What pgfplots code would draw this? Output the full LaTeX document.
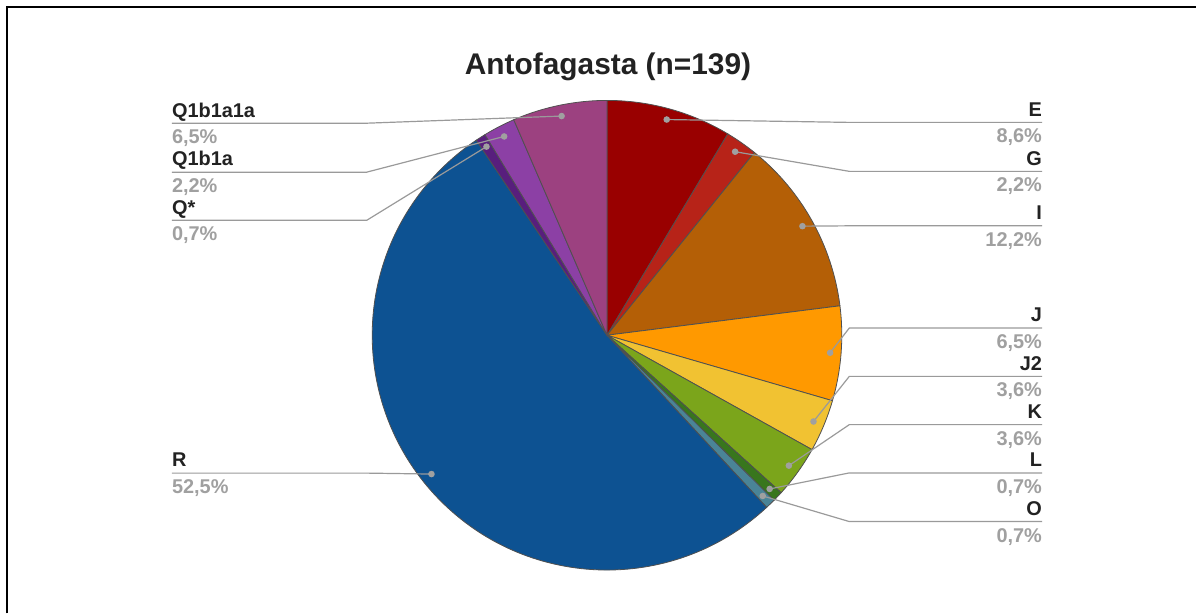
\documentclass[border=0pt]{standalone}
\usepackage{fontspec}
\setmainfont{Liberation Sans}
\usepackage{pgfplots}
\usepackage{pgfplotstable}
\pgfplotsset{compat=1.18}

% slice colours
\definecolor{cE}{HTML}{990000}
\definecolor{cG}{HTML}{B72318}
\definecolor{cI}{HTML}{B45F06}
\definecolor{cJ}{HTML}{FF9900}
\definecolor{cJtwo}{HTML}{F1C232}
\definecolor{cK}{HTML}{7BA51B}
\definecolor{cL}{HTML}{38761D}
\definecolor{cO}{HTML}{4A8497}
\definecolor{cR}{HTML}{0D5292}
\definecolor{cQs}{HTML}{581E7D}
\definecolor{cQa}{HTML}{8C40A5}
\definecolor{cQb}{HTML}{9C4180}
\definecolor{sliceedge}{HTML}{505050}
\definecolor{leader}{HTML}{9A9A9A}
\definecolor{namecol}{HTML}{222222}
\definecolor{pctcol}{HTML}{A0A0A0}

% haplogroup shares (percent), clockwise from 12 o'clock;
% side: 1 = label on the right, 0 = on the left; ly: label rule height
\pgfplotstableread{
name     pct   col    side  ly
E        8.6   cE     1     122.5
G        2.2   cG     1     171.5
I        12.2  cI     1     226
J        6.5   cJ    1     328.3
J2       3.6   cJtwo  1     376.7
K        3.6   cK     1     425
L        0.7   cL     1     473.3
O        0.7   cO     1     522
R        52.5  cR     0     473.5
Q*       0.7   cQs    0     220.5
Q1b1a    2.2   cQa    0     172.3
Q1b1a1a  6.5   cQb    0     123.3
}\pietable

\def\splitdot#1.#2\relax{#1,#2}
\def\cx{607.5}
\def\cy{335.5}

\begin{document}
\begin{tikzpicture}
\begin{axis}[
  scale only axis, width=1197bp, height=614bp,
  xmin=0, xmax=1197, ymin=0, ymax=614, y dir=reverse,
  hide axis, clip=false]
\path (rel axis cs:0,0) rectangle (rel axis cs:1,1);

% frame
\draw[black, line width=2bp] (axis cs:7,614) -- (axis cs:7,7.5) -- (axis cs:1197,7.5);

% title
\node[anchor=base, inner sep=0pt, text=namecol,
      font=\bfseries\fontsize{30}{36}\selectfont]
  at (axis cs:608.5,75) {Antofagasta (n=139)};

\pgfplotstablegetrowsof{\pietable}
\pgfmathtruncatemacro\lastrow{\pgfplotsretval-1}

% slices
\xdef\cum{0}
\pgfplotsinvokeforeach{0,...,\lastrow}{
  \pgfplotstablegetelem{#1}{pct}\of\pietable \let\p\pgfplotsretval
  \pgfplotstablegetelem{#1}{col}\of\pietable \let\c\pgfplotsretval
  \pgfmathsetmacro\a{90-3.6*\cum}
  \pgfmathsetmacro\b{\a-3.6*\p}
  \pgfmathsetmacro\newcum{\cum+\p}
  \xdef\cum{\newcum}
  \edef\temp{\noexpand\filldraw[fill=\c, draw=sliceedge, line width=0.8bp]
    (axis cs:\cx,\cy) -- ++(\a:235bp)
    arc[start angle=\a, end angle=\b, radius=235bp] -- cycle;}
  \temp
}

% leaders and labels
\xdef\cum{0}
\pgfplotsinvokeforeach{0,...,\lastrow}{
  \pgfplotstablegetelem{#1}{pct}\of\pietable \let\p\pgfplotsretval
  \pgfplotstablegetelem{#1}{name}\of\pietable \let\n\pgfplotsretval
  \pgfplotstablegetelem{#1}{side}\of\pietable \let\s\pgfplotsretval
  \pgfplotstablegetelem{#1}{ly}\of\pietable \let\ly\pgfplotsretval
  \pgfmathsetmacro\m{90-3.6*\cum-1.8*\p}
  \pgfmathsetmacro\newcum{\cum+\p}
  \xdef\cum{\newcum}
  \edef\pl{\expandafter\splitdot\p\relax}
  \pgfmathsetmacro\ny{\ly-6.2}
  \pgfmathsetmacro\py{\ly+20.5}
  \ifnum\s=1
    \def\bx{850}\def\ex{1043}\def\anc{base east}
  \else
    \def\bx{367}\def\ex{172}\def\anc{base west}
  \fi
  \edef\temp{%
    \noexpand\draw[leader, line width=1.2bp]
      (axis cs:\cx,\cy) ++(\m:224bp) -- (axis cs:\bx,\ly) -- (axis cs:\ex,\ly);
    \noexpand\fill[pctcol] (axis cs:\cx,\cy) ++(\m:224bp) circle[radius=3.3bp];
    \noexpand\node[anchor=\anc, inner sep=0pt, text=namecol,
      font=\noexpand\bfseries\noexpand\fontsize{20}{24}\noexpand\selectfont]
      at (axis cs:\ex,\ny) {\n};
    \noexpand\node[anchor=\anc, inner sep=0pt, text=pctcol,
      font=\noexpand\bfseries\noexpand\fontsize{20}{24}\noexpand\selectfont]
      at (axis cs:\ex,\py) {\pl\noexpand\%};
  }
  \temp
}
\end{axis}
\end{tikzpicture}
\end{document}
